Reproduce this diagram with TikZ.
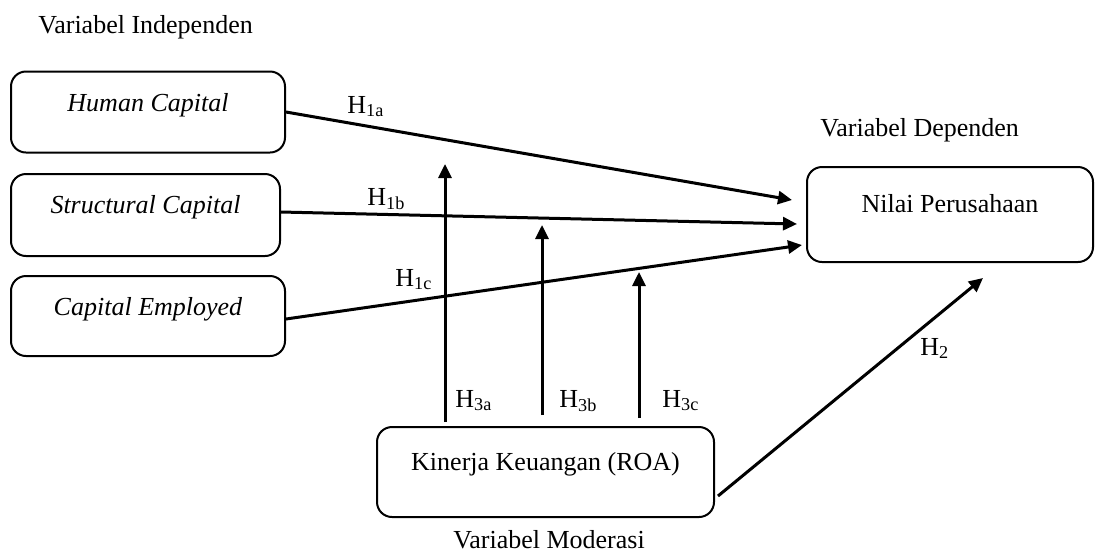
\documentclass[tikz,border=0pt]{standalone}
\usepackage{fontspec}
\setmainfont{Liberation Serif}
\usepackage{tikz}
\usetikzlibrary{arrows.meta,positioning}

\tikzset{
  varbox/.style={draw, line width=1pt, rounded corners=7.5pt, inner xsep=0pt, inner ysep=0pt,
    text height=20pt, text depth=20.5pt},
  link/.style={line width=1.5pt, -{Triangle[length=7pt,width=6.5pt]}},
  hyp/.style={anchor=base west, inner sep=0pt},
}

\begin{document}
\begin{tikzpicture}[x=0.5pt, y=-0.5pt, font=\fontsize{13}{15.6}\selectfont]

\useasboundingbox (0,0) rectangle (1096,554);

% Independent variables
\node[varbox, minimum width=137pt] (hc) at (148,112) {\textit{Human Capital}};
\node[varbox, minimum width=134.5pt, text height=19.5pt, text depth=21.5pt] (sc) at (145.5,215) {\textit{Structural Capital}};
\node[varbox, minimum width=137pt, text height=19.5pt] (ce) at (148,316) {\textit{Capital Employed}};

% Dependent and moderating variables
\node[varbox, minimum width=143pt, text height=22.5pt, text depth=25pt] (nilai) at (950,214.5) {Nilai Perusahaan};
\node[varbox, minimum width=168.5pt, text height=21.5pt, text depth=23.5pt] (kin) at (545.5,472) {Kinerja Keuangan (ROA)};

% Group labels
\node[hyp] (lind) at (38,33) {Variabel Independen};
\node[hyp] (ldep) at (820,136) {Variabel Dependen};
\node[hyp] (lmod) at (453,548) {Variabel Moderasi};

% Direct effects
\draw[link] (hc.east) -- ([xshift=-7pt,yshift=7.25pt]nilai.west);
\draw[link] ([yshift=1.5pt]sc.east) -- ([xshift=-4.5pt,yshift=-4.75pt]nilai.west);
\draw[link] ([yshift=-1.5pt]ce.east) -- ([xshift=-2pt,yshift=-15.25pt]nilai.west);
\draw[link] ([xshift=1.5pt,yshift=-12pt]kin.east) -- ([xshift=16.5pt,yshift=-7.5pt]nilai.south);

% Moderation
\coordinate (m3a) at (445,164);
\coordinate (m3b) at (542,225);
\coordinate (m3c) at (639,272);
\draw[link] ([yshift=2pt]kin.north -| m3a) -- (m3a);
\draw[link] ([yshift=5.5pt]kin.north -| m3b) -- (m3b);
\draw[link] ([yshift=4pt]kin.north -| m3c) -- (m3c);

% Hypotheses
\node[hyp] (h1a) at (347,113) {H\textsubscript{1a}};
\node[hyp] (h1b) at (367,205) {H\textsubscript{1b}};
\node[hyp] (h1c) at (395,286) {H\textsubscript{1c}};
\node[hyp] (h2) at (920,355) {H\textsubscript{2}};
\node[hyp] (h3a) at (455,407) {H\textsubscript{3a}};
\node[hyp] (h3b) at (559,407) {H\textsubscript{3b}};
\node[hyp] (h3c) at (662,407) {H\textsubscript{3c}};

\end{tikzpicture}
\end{document}
